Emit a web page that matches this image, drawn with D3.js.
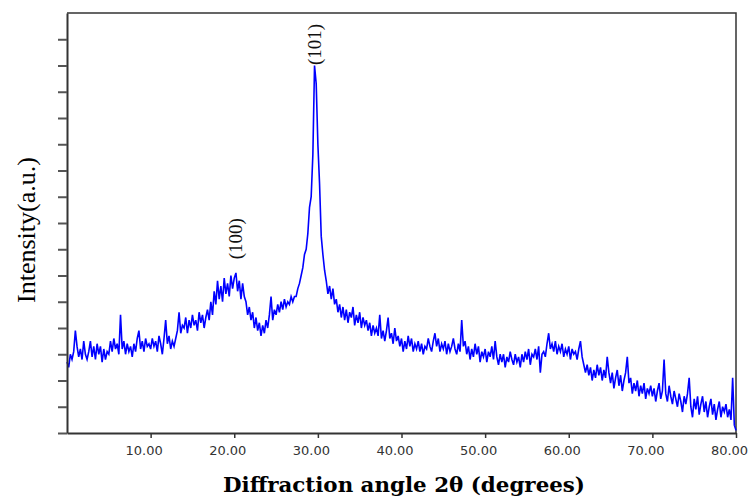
<!DOCTYPE html>
<html>
<head>
<meta charset="utf-8">
<script src="https://cdn.jsdelivr.net/npm/d3@7"></script>
<style>
  html, body { margin: 0; padding: 0; background: #fff; }
  svg { display: block; }
</style>
</head>
<body>
<svg id="chart" width="751" height="497"></svg>
<script>
// ---- data ----
const angleStart = 0;      // degrees, first sample
const angleStep = 0.2;     // degrees between samples
// intensity (a.u.), one row per degree: d.0, d.2, d.4, d.6, d.8
const intensity = [
  2.7, 2.5, 3.0, 2.8, 3.1,   // 0
  3.9, 3.3, 2.9, 3.2, 2.8,   // 1
  3.5, 3.0, 2.8, 3.1, 3.5,   // 2
  2.9, 3.3, 2.8, 3.4, 3.0,   // 3
  3.3, 2.7, 3.2, 2.8, 3.1,   // 4
  3.0, 3.5, 3.1, 3.6, 3.2,   // 5
  3.4, 3.0, 4.5, 3.2, 3.5,   // 6
  3.0, 3.4, 3.1, 3.3, 2.9,   // 7
  3.4, 3.1, 3.6, 3.9, 3.2,   // 8
  3.5, 3.1, 3.6, 3.3, 3.4,   // 9
  3.2, 3.6, 3.3, 3.5, 3.1,   // 10
  3.7, 3.4, 3.0, 3.6, 4.3,   // 11
  3.4, 3.7, 3.2, 3.5, 3.3,   // 12
  3.6, 3.9, 4.6, 3.8, 4.1,   // 13
  4.0, 4.4, 3.8, 4.3, 4.0,   // 14
  4.5, 4.1, 4.3, 3.9, 4.6,   // 15
  4.2, 4.5, 4.0, 4.4, 4.7,   // 16
  4.3, 5.0, 4.5, 5.4, 4.9,   // 17
  5.8, 5.1, 5.6, 5.0, 5.9,   // 18
  5.3, 5.7, 5.2, 6.0, 5.5,   // 19
  5.9, 6.1, 5.4, 5.8, 5.1,   // 20
  5.7, 5.2, 5.0, 4.5, 4.8,   // 21
  4.3, 4.6, 4.0, 4.4, 3.9,   // 22
  4.2, 3.7, 4.1, 3.8, 4.3,   // 23
  4.0, 4.5, 5.2, 4.3, 4.7,   // 24
  4.5, 4.9, 4.6, 5.0, 4.7,   // 25
  5.1, 4.8, 5.0, 4.9, 5.2,   // 26
  5.0, 5.2, 5.2, 5.5, 5.7,   // 27
  6.0, 6.3, 6.8, 7.0, 7.6,   // 28
  8.6, 9.0, 10.6, 14.0, 13.3, // 29
  11.0, 9.5, 7.5, 6.8, 6.2,  // 30
  5.8, 5.3, 5.6, 5.1, 5.5,   // 31
  4.9, 5.1, 4.6, 4.9, 4.4,   // 32
  4.8, 4.3, 4.7, 4.2, 4.6,   // 33
  4.4, 4.8, 4.1, 4.5, 4.2,   // 34
  4.6, 4.0, 4.4, 4.1, 4.3,   // 35
  3.9, 4.2, 3.7, 4.1, 3.8,   // 36
  4.0, 3.7, 4.5, 3.6, 3.9,   // 37
  3.5, 3.9, 4.4, 3.6, 3.8,   // 38
  3.4, 4.0, 3.5, 3.7, 3.3,   // 39
  3.6, 3.1, 3.5, 3.2, 3.7,   // 40
  3.3, 3.6, 3.1, 3.4, 3.2,   // 41
  3.5, 3.1, 3.4, 3.0, 3.3,   // 42
  3.2, 3.6, 3.3, 3.1, 3.5,   // 43
  3.8, 3.3, 3.6, 3.1, 3.4,   // 44
  3.2, 3.5, 3.0, 3.4, 3.1,   // 45
  3.3, 3.6, 3.2, 3.0, 3.4,   // 46
  3.1, 4.3, 3.3, 3.5, 3.0,   // 47
  3.3, 2.8, 3.2, 2.9, 3.4,   // 48
  3.0, 3.3, 2.7, 3.1, 2.9,   // 49
  3.2, 2.7, 3.1, 2.9, 3.3,   // 50
  2.8, 3.5, 2.9, 2.6, 3.0,   // 51
  2.7, 3.0, 2.5, 2.9, 2.7,   // 52
  3.1, 2.8, 2.6, 3.0, 2.7,   // 53
  2.9, 2.5, 3.0, 2.7, 3.1,   // 54
  2.8, 3.2, 2.6, 3.0, 2.9,   // 55
  3.2, 2.8, 3.3, 2.3, 3.0,   // 56
  3.1, 2.9, 3.4, 3.8, 3.2,   // 57
  3.4, 3.1, 3.5, 3.0, 3.3,   // 58
  3.1, 3.4, 2.9, 3.2, 3.0,   // 59
  3.3, 2.8, 3.2, 3.0, 3.1,   // 60
  2.8, 3.2, 3.5, 2.9, 2.6,   // 61
  2.3, 2.6, 2.2, 2.5, 2.0,   // 62
  2.4, 2.1, 2.6, 2.2, 2.5,   // 63
  2.0, 2.4, 2.1, 2.9, 2.3,   // 64
  1.9, 2.3, 1.7, 2.1, 2.4,   // 65
  1.8, 2.2, 1.6, 2.0, 2.3,   // 66
  2.9, 1.9, 2.1, 1.5, 1.9,   // 67
  1.6, 2.0, 1.4, 1.8, 1.5,   // 68
  1.9, 1.3, 1.7, 1.5, 1.8,   // 69
  1.4, 1.7, 1.2, 1.6, 1.9,   // 70
  1.3, 1.6, 2.8, 1.5, 1.2,   // 71
  1.8, 1.4, 1.1, 1.6, 1.3,   // 72
  1.0, 1.5, 1.2, 0.8, 1.4,   // 73
  1.1, 1.5, 2.1, 1.0, 0.6,   // 74
  1.3, 0.9, 1.4, 0.7, 1.1,   // 75
  1.4, 0.8, 1.2, 0.6, 1.0,   // 76
  1.3, 0.7, 1.1, 0.5, 0.9,   // 77
  1.2, 0.6, 1.0, 0.8, 1.1,   // 78
  0.6, 0.9, 0.5, 2.1, 0.3,   // 79
  0.1                        // 80
];
const xTickValues = [10, 20, 30, 40, 50, 60, 70, 80];
const yTickValues = [0, 1, 2, 3, 4, 5, 6, 7, 8, 9, 10, 11, 12, 13, 14, 15];
const peakLabels = ["(100)", "(101)"];
const peakAngles = [20.2, 29.6];
const peakLabelLevels = [7.4, 14.8];
const xTitle = "Diffraction angle 2\u03b8 (degrees)";
const yTitle = "Intensity(a.u.)";

// ---- layout ----
const svg = d3.select("#chart");
const mLeft = 67, mRight = 736, mTop = 13, mBottom = 433;
const x = d3.scaleLinear().domain([0, 80]).range([mLeft, mRight]);
const y = d3.scaleLinear().domain([0, 16]).range([mBottom, mTop]);

svg.append("rect").attr("width", 751).attr("height", 497).attr("fill", "#fff");

const points = intensity.map((v, i) => [angleStart + i * angleStep, v]);

// frame (top + right)
svg.append("path")
  .attr("d", `M${mLeft},${mTop}H${mRight}V${mBottom}`)
  .attr("fill", "none").attr("stroke", "#333").attr("stroke-width", 1.5);

// data line
svg.append("path")
  .datum(points)
  .attr("fill", "none")
  .attr("stroke", "#0000ff")
  .attr("stroke-width", 1.6)
  .attr("stroke-linejoin", "miter")
  .attr("d", d3.line().x(d => x(d[0])).y(d => y(d[1])));

// axes
const yAxis = svg.append("g")
  .attr("transform", `translate(${mLeft},0)`)
  .call(d3.axisLeft(y).tickValues(yTickValues).tickFormat("").tickSize(9).tickSizeOuter(0));
yAxis.select(".domain").attr("stroke", "#333").attr("stroke-width", 2);
yAxis.selectAll(".tick line").attr("stroke", "#555").attr("stroke-width", 2);

const xAxis = svg.append("g")
  .attr("transform", `translate(0,${mBottom})`)
  .call(d3.axisBottom(x).tickValues(xTickValues).tickFormat(d3.format(".2f")).tickSize(5).tickSizeOuter(0));
xAxis.select(".domain").attr("stroke", "#333").attr("stroke-width", 2);
xAxis.selectAll(".tick line").attr("stroke", "#333").attr("stroke-width", 1.5);
xAxis.selectAll(".tick text")
  .attr("font-family", "DejaVu Sans, sans-serif")
  .attr("font-size", 13)
  .attr("fill", "#333")
  .attr("dx", -7)
  .attr("dy", "1.1em");

// peak labels
svg.selectAll(".peak")
  .data(peakLabels)
  .enter().append("text")
  .attr("class", "peak")
  .attr("transform", (d, i) => `translate(${x(peakAngles[i]) + 6},${y(peakLabelLevels[i])}) rotate(-90)`)
  .attr("text-anchor", "middle")
  .attr("font-family", "Liberation Serif, serif")
  .attr("font-size", 19)
  .attr("fill", "#111")
  .text(d => d);

// axis titles
svg.append("text")
  .attr("x", 404).attr("y", 492)
  .attr("text-anchor", "middle")
  .attr("font-family", "DejaVu Serif, serif")
  .attr("font-weight", "bold")
  .attr("font-size", 21)
  .attr("textLength", 362)
  .attr("lengthAdjust", "spacingAndGlyphs")
  .attr("fill", "#000")
  .text(xTitle);

svg.append("text")
  .attr("transform", "translate(35,230) rotate(-90)")
  .attr("text-anchor", "middle")
  .attr("font-family", "Liberation Serif, serif")
  .attr("font-size", 26)
  .attr("fill", "#000")
  .text(yTitle);
</script>
</body>
</html>
